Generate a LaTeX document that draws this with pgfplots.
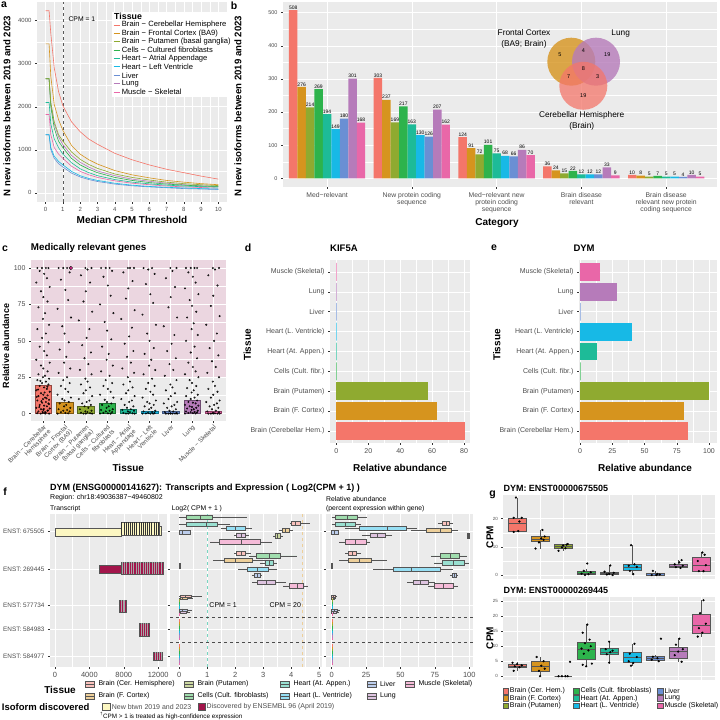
\documentclass[border=0pt]{standalone}
\usepackage{fontspec}
\setmainfont{Liberation Sans}
\usepackage{pgfplots}
\usepackage{pgfplotstable}
\pgfplotsset{compat=1.18}
\usepgfplotslibrary{statistics}

\definecolor{ggbg}{HTML}{EBEBEB}
\definecolor{ggtext}{HTML}{4D4D4D}
\definecolor{ggtick}{HTML}{333333}
\definecolor{ggbox}{HTML}{555555}
\definecolor{ggpink}{HTML}{EBD6E0}
\definecolor{cCer}{HTML}{F4766A}
\definecolor{cFC}{HTML}{D6941E}
\definecolor{cPut}{HTML}{8FAA30}
\definecolor{cCel}{HTML}{2DB34C}
\definecolor{cHA}{HTML}{1DBB98}
\definecolor{cHL}{HTML}{17B9E6}
\definecolor{cLiv}{HTML}{6A8FD4}
\definecolor{cLun}{HTML}{B67BBA}
\definecolor{cMus}{HTML}{E967A8}
\definecolor{cYel}{HTML}{FCF7C2}
\definecolor{cBur}{HTML}{A3154B}
\definecolor{cMag}{HTML}{F0339C}

\newcommand\fs[1]{\fontsize{#1}{#1}\selectfont}

\pgfplotsset{gg/.style={
  scale only axis,
  axis background/.style={fill=ggbg},
  axis line style={draw=none},
  grid=both,
  major grid style={white, line width=0.55pt},
  minor grid style={white, line width=0.25pt},
  tick align=outside,
  major tick length=2pt,
  minor tick length=0pt,
  every tick/.style={ggtick, line width=0.45pt},
  tick pos=left,
  ticklabel style={font=\fs{6}, text=ggtext},
  /pgf/number format/assume math mode=true,
  /pgf/number format/1000 sep={},
  scaled ticks=false,
}}

\newcommand\bp[8]{\addplot[boxplot prepared={lower whisker=#3, lower quartile=#4, median=#5, upper quartile=#6, upper whisker=#7, draw position=#2, box extend=#8, whisker extend=0}, draw=ggbox, fill=#1!45, line width=0.3pt] coordinates {};}
\newcommand\gbp[7]{\addplot[boxplot prepared={draw direction=y, lower whisker=#3, lower quartile=#4, median=#5, upper quartile=#6, upper whisker=#7, draw position=#2, box extend=0.75, whisker extend=0}, draw=ggbox, fill=#1, line width=0.35pt] coordinates {};}
\newcommand\blab[2]{\addplot[draw=none, nodes near coords, every node near coord/.append style={font=\fs{5}, inner sep=0.6pt, text=black, anchor=south}] table[x expr=\thisrow{c}+#2, y=#1]{\btab};}

\pgfplotstableread{
x Cer FC Put Cel HA HL Liv Lun Mus
0 4230 3460 2650 2650 2100 1350 1350 2650 1820
0.2 4230 3460 2650 2650 2100 1350 1350 2650 1820
0.3 3700 2700 2100 2000 1600 1050 1000 2050 1350
0.5 2900 2050 1650 1500 1250 850 800 1600 1050
0.75 2350 1700 1350 1200 1050 730 680 1300 900
1 2020 1450 1200 1050 900 650 600 1120 800
1.5 1650 1100 950 800 700 500 460 870 620
2 1420 900 780 650 560 400 370 710 500
2.5 1250 770 660 550 470 335 310 600 420
3 1130 670 570 470 400 290 265 510 360
4 920 520 440 360 310 225 205 400 280
5 770 420 360 290 250 180 165 320 225
6 650 350 300 240 210 150 140 270 190
7 550 290 250 205 180 130 120 225 160
8 470 250 215 180 160 115 100 190 140
9 390 215 190 160 145 100 90 165 125
10 320 190 170 150 135 90 80 150 110
}\atab

\pgfplotstableread{
c Cer FC Put Cel HA HL Liv Lun Mus
1 508 276 214 269 194 149 180 301 168
2 303 237 169 217 163 130 126 207 162
3 124 91 72 101 75 68 66 86 70
4 36 24 15 22 12 12 12 33 9
5 10 8 5 7 5 5 4 10 5
}\btab

\pgfplotstableread[row sep=\\]{t dx v\\
1 -0.28 100\\ 1 0.12 100\\ 1 -0.06 100\\ 1 0.24 100\\ 1 -0.17 98\\ 1 0.04 96\\ 1 0.17 93\\ 1 -0.33 90\\ 1 0.30 87\\ 1 -0.11 84\\ 1 0.00 80\\ 1 0.20 77\\ 1 -0.23 73\\ 1 0.08 69\\ 1 -0.02 65\\ 1 0.27 61\\
1 -0.28 58\\ 1 0.12 55\\ 1 -0.06 52\\ 1 0.24 49\\ 1 -0.17 46\\ 1 0.04 43\\ 1 0.17 40\\ 1 -0.33 37\\ 1 0.30 35\\ 1 -0.11 33\\ 1 0.00 31\\ 1 0.20 29\\ 1 -0.23 27\\ 1 0.08 26\\ 1 -0.02 25\\ 1 0.27 24\\
1 -0.28 23\\ 1 0.12 22\\ 1 -0.06 21\\ 1 0.24 20\\ 1 -0.17 19\\ 1 0.04 18\\ 1 0.17 17\\ 1 -0.33 16\\ 1 0.30 15\\ 1 -0.11 14\\ 1 0.00 13\\ 1 0.20 12.5\\ 1 -0.23 12\\ 1 0.08 11\\ 1 -0.02 10\\ 1 0.27 9.5\\
1 -0.28 9\\ 1 0.12 8\\ 1 -0.06 7.5\\ 1 0.24 7\\ 1 -0.17 6\\ 1 0.04 5.5\\ 1 0.17 5\\ 1 -0.33 4\\ 1 0.30 3.5\\ 1 -0.11 3\\ 1 0.00 2.5\\ 1 0.20 2\\ 1 -0.23 1.5\\ 1 0.08 1\\ 1 -0.02 0.5\\ 1 0.27 0\\
1 -0.14 22.5\\ 1 0.19 18.5\\ 1 -0.25 16.5\\ 1 0.06 14.5\\ 1 -0.31 11.5\\ 1 0.15 10.5\\ 1 -0.09 8.5\\ 1 0.26 6.5\\ 1 -0.19 4.5\\ 1 0.02 3.2\\ 1 0.22 2.2\\ 1 -0.04 1.2\\ 1 0.11 0.8\\ 1 -0.29 0.3\\ 1 0.09 0.1\\ 1 -0.12 0\\
2 -0.28 100\\ 2 0.12 100\\ 2 -0.06 100\\ 2 0.24 97\\ 2 -0.17 92\\ 2 0.04 85\\ 2 0.17 78\\ 2 -0.33 72\\ 2 0.30 66\\ 2 -0.11 60\\ 2 0.00 55\\ 2 0.20 49\\ 2 -0.23 44\\ 2 0.08 39\\ 2 -0.02 35\\ 2 0.27 31\\
2 -0.28 28\\ 2 0.12 25\\ 2 -0.06 23\\ 2 0.24 21\\ 2 -0.17 19\\ 2 0.04 17\\ 2 0.17 15\\ 2 -0.33 13\\ 2 0.30 11\\ 2 -0.11 10\\ 2 0.00 9\\ 2 0.20 8\\ 2 -0.23 7\\ 2 0.08 6\\ 2 -0.02 5\\ 2 0.27 4\\
2 -0.28 3\\ 2 0.12 2.5\\ 2 -0.06 2\\ 2 0.24 1.5\\ 2 -0.17 1\\ 2 0.04 0.5\\ 2 0.17 0.2\\ 2 -0.33 0\\
3 0.27 100\\ 3 -0.02 100\\ 3 0.08 99\\ 3 -0.23 95\\ 3 0.20 90\\ 3 0.00 84\\ 3 -0.11 77\\ 3 0.30 70\\ 3 -0.33 64\\ 3 0.17 58\\ 3 0.04 52\\ 3 -0.17 47\\ 3 0.24 42\\ 3 -0.06 38\\ 3 0.12 34\\ 3 -0.28 30\\
3 0.27 27\\ 3 -0.02 24\\ 3 0.08 22\\ 3 -0.23 20\\ 3 0.20 18\\ 3 0.00 16\\ 3 -0.11 14\\ 3 0.30 12\\ 3 -0.33 10\\ 3 0.17 9\\ 3 0.04 8\\ 3 -0.17 7\\ 3 0.24 6\\ 3 -0.06 5\\ 3 0.12 4\\ 3 -0.28 3\\
3 0.27 2\\ 3 -0.02 1.5\\ 3 0.08 1\\ 3 -0.23 0.6\\ 3 0.20 0.3\\ 3 0.00 0\\ 3 -0.11 0\\ 3 0.30 0\\
4 -0.28 100\\ 4 0.12 100\\ 4 -0.06 100\\ 4 0.24 98\\ 4 -0.17 94\\ 4 0.04 88\\ 4 0.17 81\\ 4 -0.33 75\\ 4 0.30 69\\ 4 -0.11 63\\ 4 0.00 57\\ 4 0.20 51\\ 4 -0.23 46\\ 4 0.08 41\\ 4 -0.02 37\\ 4 0.27 33\\
4 -0.28 29\\ 4 0.12 26\\ 4 -0.06 23\\ 4 0.24 21\\ 4 -0.17 19\\ 4 0.04 17\\ 4 0.17 15\\ 4 -0.33 13\\ 4 0.30 11\\ 4 -0.11 9.5\\ 4 0.00 8\\ 4 0.20 7\\ 4 -0.23 6\\ 4 0.08 5\\ 4 -0.02 4\\ 4 0.27 3\\
4 -0.28 2.5\\ 4 0.12 2\\ 4 -0.06 1.5\\ 4 0.24 1\\ 4 -0.17 0.5\\ 4 0.04 0.2\\ 4 0.17 0\\ 4 -0.33 0\\
5 0.27 100\\ 5 -0.02 100\\ 5 0.08 100\\ 5 -0.23 97\\ 5 0.20 91\\ 5 0.00 86\\ 5 -0.11 79\\ 5 0.30 71\\ 5 -0.33 65\\ 5 0.17 59\\ 5 0.04 53\\ 5 -0.17 48\\ 5 0.24 43\\ 5 -0.06 39\\ 5 0.12 35\\ 5 -0.28 31\\
5 0.27 28\\ 5 -0.02 25\\ 5 0.08 22\\ 5 -0.23 20\\ 5 0.20 18\\ 5 0.00 16\\ 5 -0.11 14\\ 5 0.30 12\\ 5 -0.33 10\\ 5 0.17 9\\ 5 0.04 8\\ 5 -0.17 6\\ 5 0.24 5\\ 5 -0.06 4\\ 5 0.12 3\\ 5 -0.28 2.5\\
5 0.27 2\\ 5 -0.02 1.5\\ 5 0.08 1\\ 5 -0.23 0.5\\ 5 0.20 0.2\\ 5 0.00 0\\ 5 -0.11 0\\ 5 0.30 0\\
6 -0.28 100\\ 6 0.12 100\\ 6 -0.06 99\\ 6 0.24 96\\ 6 -0.17 89\\ 6 0.04 82\\ 6 0.17 76\\ 6 -0.33 68\\ 6 0.30 61\\ 6 -0.11 55\\ 6 0.00 50\\ 6 0.20 45\\ 6 -0.23 41\\ 6 0.08 37\\ 6 -0.02 33\\ 6 0.27 30\\
6 -0.28 27\\ 6 0.12 24\\ 6 -0.06 21\\ 6 0.24 19\\ 6 -0.17 17\\ 6 0.04 15\\ 6 0.17 13\\ 6 -0.33 11\\ 6 0.30 9\\ 6 -0.11 8\\ 6 0.00 7\\ 6 0.20 6\\ 6 -0.23 5\\ 6 0.08 4\\ 6 -0.02 3\\ 6 0.27 2\\
6 -0.28 1.5\\ 6 0.12 1\\ 6 -0.06 0.6\\ 6 0.24 0.3\\ 6 -0.17 0.1\\ 6 0.04 0\\ 6 0.17 0\\ 6 -0.33 0\\
7 0.27 100\\ 7 -0.02 100\\ 7 0.08 98\\ 7 -0.23 93\\ 7 0.20 87\\ 7 0.00 80\\ 7 -0.11 73\\ 7 0.30 66\\ 7 -0.33 60\\ 7 0.17 54\\ 7 0.04 48\\ 7 -0.17 43\\ 7 0.24 38\\ 7 -0.06 34\\ 7 0.12 30\\ 7 -0.28 26\\
7 0.27 23\\ 7 -0.02 20\\ 7 0.08 18\\ 7 -0.23 16\\ 7 0.20 14\\ 7 0.00 12\\ 7 -0.11 10\\ 7 0.30 8\\ 7 -0.33 7\\ 7 0.17 6\\ 7 0.04 5\\ 7 -0.17 4\\ 7 0.24 3\\ 7 -0.06 2\\ 7 0.12 1.5\\ 7 -0.28 1\\
7 0.27 0.5\\ 7 -0.02 0.2\\ 7 0.08 0\\ 7 -0.23 0\\ 7 0.20 0\\ 7 0.00 0\\ 7 -0.11 0\\ 7 0.30 0\\
8 -0.28 100\\ 8 0.12 100\\ 8 -0.06 100\\ 8 0.24 100\\ 8 -0.17 97\\ 8 0.04 94\\ 8 0.17 90\\ 8 -0.33 86\\ 8 0.30 82\\ 8 -0.11 78\\ 8 0.00 74\\ 8 0.20 70\\ 8 -0.23 66\\ 8 0.08 62\\ 8 -0.02 58\\ 8 0.27 54\\
8 -0.28 50\\ 8 0.12 46\\ 8 -0.06 42\\ 8 0.24 38\\ 8 -0.17 35\\ 8 0.04 32\\ 8 0.17 29\\ 8 -0.33 27\\ 8 0.30 25\\ 8 -0.11 23\\ 8 0.00 21\\ 8 0.20 19\\ 8 -0.23 17.5\\ 8 0.08 16\\ 8 -0.02 14.5\\ 8 0.27 13\\
8 -0.28 12\\ 8 0.12 11\\ 8 -0.06 10\\ 8 0.24 9\\ 8 -0.17 8\\ 8 0.04 7.5\\ 8 0.17 7\\ 8 -0.33 6\\ 8 0.30 5.5\\ 8 -0.11 5\\ 8 0.00 4.5\\ 8 0.20 4\\ 8 -0.23 3.5\\ 8 0.08 3\\ 8 -0.02 2.5\\ 8 0.27 2\\
8 -0.28 1.5\\ 8 0.12 1.2\\ 8 -0.06 1\\ 8 0.24 0.8\\ 8 -0.17 0.5\\ 8 0.04 0.3\\ 8 0.17 0.1\\ 8 -0.33 0\\
9 0.27 100\\ 9 -0.02 100\\ 9 0.08 99\\ 9 -0.23 95\\ 9 0.20 88\\ 9 0.00 81\\ 9 -0.11 74\\ 9 0.30 67\\ 9 -0.33 61\\ 9 0.17 55\\ 9 0.04 50\\ 9 -0.17 45\\ 9 0.24 40\\ 9 -0.06 36\\ 9 0.12 32\\ 9 -0.28 28\\
9 0.27 25\\ 9 -0.02 22\\ 9 0.08 19\\ 9 -0.23 17\\ 9 0.20 15\\ 9 0.00 13\\ 9 -0.11 11\\ 9 0.30 9\\ 9 -0.33 8\\ 9 0.17 7\\ 9 0.04 6\\ 9 -0.17 5\\ 9 0.24 4\\ 9 -0.06 3\\ 9 0.12 2\\ 9 -0.28 1.5\\
9 0.27 1\\ 9 -0.02 0.5\\ 9 0.08 0.2\\ 9 -0.23 0\\ 9 0.20 0\\ 9 0.00 0\\ 9 -0.11 0\\ 9 0.30 0\\
}\ctab

\begin{document}
\begin{tikzpicture}
\path[use as bounding box] (0,0) rectangle (720pt,720pt);

%%%%%%%%%%%%%%%% Panel a
\begin{axis}[gg, at={(37pt,718.3pt)}, anchor=north west, width=190pt, height=200.3pt,
  xmin=-0.5, xmax=10.5, ymin=-211, ymax=4440,
  xtick={0,1,...,10}, ytick={0,1000,2000,3000,4000}, minor tick num=1]
\addplot[dashed, color=gray!70!black, line width=0.5pt] coordinates {(1,-211) (1,4440)};
\addplot[cMus, line width=0.6pt] table[x=x,y=Mus]{\atab};
\addplot[cLun, line width=0.6pt] table[x=x,y=Lun]{\atab};
\addplot[cLiv, line width=0.6pt] table[x=x,y=Liv]{\atab};
\addplot[cHL, line width=0.6pt] table[x=x,y=HL]{\atab};
\addplot[cHA, line width=0.6pt] table[x=x,y=HA]{\atab};
\addplot[cCel, line width=0.6pt] table[x=x,y=Cel]{\atab};
\addplot[cPut, line width=0.6pt] table[x=x,y=Put]{\atab};
\addplot[cFC, line width=0.6pt] table[x=x,y=FC]{\atab};
\addplot[cCer, line width=0.6pt] table[x=x,y=Cer]{\atab};
\node[font=\fs{6.8}, inner sep=0] at (axis cs:2.1,4040) {CPM = 1};
\end{axis}

%%%%%%%%%%%%%%%% Panel b
\begin{axis}[gg, at={(283pt,718.4pt)}, anchor=north west, width=434pt, height=185.1pt,
  xmin=0.48, xmax=5.6, ymin=-25.4, ymax=533.4, xtick={1,2,3,4,5},
  xticklabels={{Med−relevant},{New protein coding\\sequence},{Med−relevant new\\protein coding\\sequence},{Brain disease\\relevant},{Brain disease\\relevant new protein\\coding sequence}},
  xticklabel style={align=center, font=\fontsize{6.8}{7.4}\selectfont},
  ytick={0,100,200,300,400,500}, minor y tick num=1, yticklabel style={font=\fs{5.5}}]
\addplot[ybar, bar width=0.1, bar shift=-0.4, fill=cCer, draw=none] table[x=c,y=Cer]{\btab};
\addplot[ybar, bar width=0.1, bar shift=-0.3, fill=cFC, draw=none] table[x=c,y=FC]{\btab};
\addplot[ybar, bar width=0.1, bar shift=-0.2, fill=cPut, draw=none] table[x=c,y=Put]{\btab};
\addplot[ybar, bar width=0.1, bar shift=-0.1, fill=cCel, draw=none] table[x=c,y=Cel]{\btab};
\addplot[ybar, bar width=0.1, bar shift=0, fill=cHA, draw=none] table[x=c,y=HA]{\btab};
\addplot[ybar, bar width=0.1, bar shift=0.1, fill=cHL, draw=none] table[x=c,y=HL]{\btab};
\addplot[ybar, bar width=0.1, bar shift=0.2, fill=cLiv, draw=none] table[x=c,y=Liv]{\btab};
\addplot[ybar, bar width=0.1, bar shift=0.3, fill=cLun, draw=none] table[x=c,y=Lun]{\btab};
\addplot[ybar, bar width=0.1, bar shift=0.4, fill=cMus, draw=none] table[x=c,y=Mus]{\btab};
\blab{Cer}{-0.4}
\blab{FC}{-0.3}
\blab{Put}{-0.2}
\blab{Cel}{-0.1}
\blab{HA}{0}
\blab{HL}{0.1}
\blab{Liv}{0.2}
\blab{Lun}{0.3}
\blab{Mus}{0.4}
\end{axis}

%%%%%%%%%%%%%%%% Panel c
\begin{axis}[gg, at={(31pt,459.7pt)}, anchor=north west, width=195pt, height=160.6pt,
  xmin=0.42, xmax=9.6, ymin=-5, ymax=105.3,
  xtick={1,...,9}, ytick={0,25,50,75,100}, minor y tick num=1,
  xticklabels={{Brain − Cerebellar\\Hemisphere},{Brain − Frontal\\Cortex (BA9)},{Brain − Putamen\\(basal ganglia)},{Cells − Cultured\\fibroblasts},{Heart − Atrial\\Appendage},{Heart − Left\\Ventricle},{Liver},{Lung},{Muscle − Skeletal}},
  xticklabel style={rotate=45, anchor=north east, align=right, font=\fontsize{6.3}{6.6}\selectfont, inner sep=1pt},
  yticklabel style={font=\fs{7}}]
\fill[ggpink] (axis cs:0.42,25) rectangle (axis cs:9.6,105.3);
\draw[white, line width=0.25pt] (axis cs:0.42,37.5) -- (axis cs:9.6,37.5) (axis cs:0.42,62.5) -- (axis cs:9.6,62.5) (axis cs:0.42,87.5) -- (axis cs:9.6,87.5);
\draw[white, line width=0.55pt] (axis cs:0.42,25) -- (axis cs:9.6,25) (axis cs:0.42,50) -- (axis cs:9.6,50) (axis cs:0.42,75) -- (axis cs:9.6,75) (axis cs:0.42,100) -- (axis cs:9.6,100);
\draw[white, line width=0.55pt] (axis cs:1,25) -- (axis cs:1,105.3) (axis cs:2,25) -- (axis cs:2,105.3) (axis cs:3,25) -- (axis cs:3,105.3) (axis cs:4,25) -- (axis cs:4,105.3) (axis cs:5,25) -- (axis cs:5,105.3) (axis cs:6,25) -- (axis cs:6,105.3) (axis cs:7,25) -- (axis cs:7,105.3) (axis cs:8,25) -- (axis cs:8,105.3) (axis cs:9,25) -- (axis cs:9,105.3);
\addplot[ybar, bar width=0.78, bar shift=0, fill=cCer, draw=cCer!60!black, line width=0.4pt] coordinates {(1,19.4)};
\addplot[ybar, bar width=0.78, bar shift=0, fill=cFC, draw=cFC!60!black, line width=0.4pt] coordinates {(2,8)};
\addplot[ybar, bar width=0.78, bar shift=0, fill=cPut, draw=cPut!60!black, line width=0.4pt] coordinates {(3,5.4)};
\addplot[ybar, bar width=0.78, bar shift=0, fill=cCel, draw=cCel!60!black, line width=0.4pt] coordinates {(4,7)};
\addplot[ybar, bar width=0.78, bar shift=0, fill=cHA, draw=cHA!60!black, line width=0.4pt] coordinates {(5,3.2)};
\addplot[ybar, bar width=0.78, bar shift=0, fill=cHL, draw=cHL!60!black, line width=0.4pt] coordinates {(6,2)};
\addplot[ybar, bar width=0.78, bar shift=0, fill=cLiv, draw=cLiv!60!black, line width=0.4pt] coordinates {(7,2)};
\addplot[ybar, bar width=0.78, bar shift=0, fill=cLun, draw=cLun!60!black, line width=0.4pt] coordinates {(8,9.3)};
\addplot[ybar, bar width=0.78, bar shift=0, fill=cMus, draw=cMus!60!black, line width=0.4pt] coordinates {(9,1.5)};
\addplot[only marks, mark=*, mark size=0.8pt, mark options={fill=black, draw=none, fill opacity=0.33}] table[x expr=\thisrow{t}+\thisrow{dx}, y=v]{\ctab};
\addplot[only marks, mark=*, mark size=1.7pt, mark options={fill=cMag, draw=none}] coordinates {(2.3,100)};
\end{axis}

%%%%%%%%%%%%%%%% Panel d
\begin{axis}[gg, at={(330pt,460pt)}, anchor=north west, width=140.4pt, height=183pt,
  xmin=-4, xmax=84, ymin=0.4, ymax=9.6, xtick={0,20,40,60,80}, minor x tick num=1,
  ytick={1,...,9}, yticklabels={Brain (Cerebellar Hem.),Brain (F. Cortex),Brain (Putamen),Cells (Cult. fibr.),Heart (At. Appen.),Heart (L. Ventricle),Liver,Lung,Muscle (Skeletal)},
  ticklabel style={font=\fs{7}}]
\addplot[xbar, bar width=0.9, bar shift=0, fill=cCer, draw=none] coordinates {(80.5,1)};
\addplot[xbar, bar width=0.9, bar shift=0, fill=cFC, draw=none] coordinates {(63,2)};
\addplot[xbar, bar width=0.9, bar shift=0, fill=cPut, draw=none] coordinates {(57.7,3)};
\addplot[xbar, bar width=0.9, bar shift=0, draw=cCel!60, line width=0.2pt] coordinates {(0,4)};
\addplot[xbar, bar width=0.9, bar shift=0, draw=cHA!60, line width=0.2pt] coordinates {(0,5)};
\addplot[xbar, bar width=0.9, bar shift=0, draw=cHL!60, line width=0.2pt] coordinates {(0,6)};
\addplot[xbar, bar width=0.9, bar shift=0, draw=cLiv!60, line width=0.2pt] coordinates {(0,7)};
\addplot[xbar, bar width=0.9, bar shift=0, draw=cLun!60, line width=0.2pt] coordinates {(0,8)};
\addplot[xbar, bar width=0.9, bar shift=0, draw=cMus!60, line width=0.2pt] coordinates {(0,9)};
\end{axis}

%%%%%%%%%%%%%%%% Panel e
\begin{axis}[gg, at={(579pt,460pt)}, anchor=north west, width=138pt, height=183pt,
  xmin=-0.8, xmax=106.2, ymin=0.4, ymax=9.6, xtick={0,25,50,75,100}, minor x tick num=1,
  ytick={1,...,9}, yticklabels={Brain (Cerebellar Hem.),Brain (F. Cortex),Brain (Putamen),Cells (Cult. fibr.),Heart (At. Appen.),Heart (L. Ventricle),Liver,Lung,Muscle (Skeletal)},
  ticklabel style={font=\fs{7}}]
\addplot[xbar, bar width=0.9, bar shift=0, fill=cCer, draw=none] coordinates {(84,1)};
\addplot[xbar, bar width=0.9, bar shift=0, fill=cFC, draw=none] coordinates {(80.4,2)};
\addplot[xbar, bar width=0.9, bar shift=0, fill=cPut, draw=none] coordinates {(100,3)};
\addplot[xbar, bar width=0.9, bar shift=0, draw=cCel!60, line width=0.2pt] coordinates {(0,4)};
\addplot[xbar, bar width=0.9, bar shift=0, fill=cHA, draw=none] coordinates {(13,5)};
\addplot[xbar, bar width=0.9, bar shift=0, fill=cHL, draw=none] coordinates {(40,6)};
\addplot[xbar, bar width=0.9, bar shift=0, draw=cLiv!60, line width=0.2pt] coordinates {(0,7)};
\addplot[xbar, bar width=0.9, bar shift=0, fill=cLun, draw=none] coordinates {(29,8)};
\addplot[xbar, bar width=0.9, bar shift=0, fill=cMus, draw=none] coordinates {(15.5,9)};
\end{axis}

%%%%%%%%%%%%%%%% Panel f: transcripts
\begin{axis}[gg, at={(50pt,206pt)}, anchor=north west, width=116.7pt, height=153pt,
  xmin=-580, xmax=12990, ymin=514, ymax=667, y dir=reverse,
  xtick={0,4000,8000,12000}, minor x tick num=1,
  ytick={531.7,569,605,629,656}, yticklabels={ENST: 675505,ENST: 269445,ENST: 577734,ENST: 584983,ENST: 584977},
  yticklabel style={font=\fs{6.4}}, xticklabel style={font=\fs{7.5}}]
\addplot[fill=cYel, draw=ggbox, line width=0.35pt] coordinates {(0,528.3) (7640,528.3) (7640,535.7) (0,535.7)} -- cycle;
\addplot[fill=cYel, draw=ggbox, line width=0.35pt] coordinates {(7640,522.4) (12130,522.4) (12130,535.5) (7640,535.5)} -- cycle;
\addplot[fill=cYel, draw=ggbox, line width=0.35pt] coordinates {(12130,526) (12400,526) (12400,535.5) (12130,535.5)} -- cycle;
\addplot[only marks, mark=|, mark size=6.5pt, mark options={draw=ggtick, line width=0.55pt}] coordinates {(7750,528.95) (8000,528.95) (8250,528.95) (8500,528.95) (8750,528.95) (9000,528.95) (9250,528.95) (9500,528.95) (9750,528.95) (10000,528.95) (10250,528.95) (10500,528.95) (10750,528.95) (11000,528.95) (11250,528.95) (11500,528.95) (11750,528.95) (12000,528.95)};
\addplot[fill=cBur, draw=ggbox, line width=0.35pt] coordinates {(5100,565) (7640,565) (7640,573.3) (5100,573.3)} -- cycle;
\addplot[fill=cBur, draw=ggbox, line width=0.35pt] coordinates {(7640,561.7) (12550,561.7) (12550,574) (7640,574)} -- cycle;
\addplot[only marks, mark=|, mark size=6.1pt, mark options={draw=gray!70, line width=0.4pt}] coordinates {(7800,567.85) (8050,567.85) (8300,567.85) (8600,567.85) (8850,567.85) (9100,567.85) (9400,567.85) (9650,567.85) (9900,567.85) (10200,567.85) (10450,567.85) (10700,567.85) (11000,567.85) (11250,567.85) (11500,567.85) (11800,567.85) (12050,567.85) (12300,567.85)};
\addplot[fill=cBur, draw=ggbox, line width=0.35pt] coordinates {(7440,600) (8260,600) (8260,611.7) (7440,611.7)} -- cycle;
\addplot[only marks, mark=|, mark size=5.8pt, mark options={draw=gray!70, line width=0.4pt}] coordinates {(7650,605.85) (7900,605.85) (8100,605.85)};
\addplot[fill=cBur, draw=ggbox, line width=0.35pt] coordinates {(9800,623) (10930,623) (10930,635.7) (9800,635.7)} -- cycle;
\addplot[only marks, mark=|, mark size=6.3pt, mark options={draw=gray!70, line width=0.4pt}] coordinates {(10000,629.35) (10250,629.35) (10500,629.35) (10750,629.35)};
\addplot[fill=cBur, draw=ggbox, line width=0.35pt] coordinates {(11430,651.7) (12480,651.7) (12480,660) (11430,660)} -- cycle;
\addplot[only marks, mark=|, mark size=4.1pt, mark options={draw=gray!70, line width=0.4pt}] coordinates {(11650,655.85) (11900,655.85) (12150,655.85) (12350,655.85)};
\end{axis}

%%%%%%%%%%%%%%%% Panel f: log2 CPM
\begin{axis}[gg, at={(170pt,206pt)}, anchor=north west, width=151.7pt, height=153pt,
  xmin=-0.33, xmax=5.09, ymin=514, ymax=667, y dir=reverse,
  xtick={0,1,2,3,4,5}, minor x tick num=1,
  ytick={531.7,569,605,629,656}, yticklabels={}, xticklabel style={font=\fs{7.5}}]
\addplot[dashed, color=cHA!60!white, line width=0.55pt] coordinates {(1,514) (1,667)};
\addplot[dashed, color=cFC!45!white, line width=0.55pt] coordinates {(4.39,514) (4.39,667)};
\addplot[dashed, color=gray!60!black, line width=0.45pt] coordinates {(-0.33,617.3) (5.09,617.3)};
\addplot[dashed, color=gray!60!black, line width=0.45pt] coordinates {(-0.33,642.3) (5.09,642.3)};
\bp{cCel}{517.3}{0}{0.26}{0.75}{1.18}{2.41}{4.5}
\bp{cCer}{523.3}{3.95}{4.01}{4.15}{4.31}{4.67}{4.5}
\bp{cHA}{524}{0}{0.23}{0.95}{1.34}{1.8}{4.5}
\bp{cHL}{528}{1.5}{1.66}{2.0}{2.35}{2.6}{4.5}
\bp{cFC}{530}{3.55}{3.68}{3.8}{3.93}{4.05}{4.5}
\bp{cLiv}{532.3}{0}{0}{0.1}{0.38}{0.4}{4.5}
\bp{cLun}{535}{1.95}{2.03}{2.2}{2.37}{2.5}{4.5}
\bp{cPut}{535.7}{3.35}{3.42}{3.5}{3.6}{3.7}{4.5}
\bp{cMus}{541.7}{1.1}{1.42}{2.2}{2.88}{3.3}{4.5}
\bp{cCer}{553.3}{1.95}{2.05}{2.2}{2.35}{2.55}{4.5}
\bp{cCel}{555.7}{2.5}{2.76}{3.2}{3.6}{4.2}{4.5}
\bp{cFC}{560}{1.2}{1.6}{2.0}{2.59}{3.2}{4.5}
\bp{cHA}{562.7}{2.9}{3.06}{3.2}{3.34}{3.5}{4.5}
\bp{cPut}{565.7}{0}{0}{0}{0.05}{0.05}{4.5}
\bp{cHL}{569}{2.1}{2.43}{2.8}{3.18}{3.5}{4.5}
\bp{cLiv}{575}{2.6}{2.67}{2.8}{2.88}{2.95}{4.5}
\bp{cLun}{582.3}{2.6}{2.8}{3.1}{3.42}{3.8}{4.5}
\bp{cMus}{585.7}{3.7}{3.93}{4.2}{4.42}{4.6}{4.5}
\bp{cCer}{596}{0}{0.03}{0.2}{0.44}{0.8}{2.2}
\bp{cFC}{598.3}{0}{0.02}{0.1}{0.3}{0.5}{2.2}
\bp{cLiv}{609.8}{0}{0}{0.1}{0.3}{0.45}{2.2}
\bp{cLun}{612.1}{0}{0}{0.05}{0.25}{0.4}{2.2}
\addplot[only marks, mark=|, mark size=1.15pt, mark options={draw=cCer, line width=1.3pt}] coordinates {(0.02,620.5) (0.02,645.5)};
\addplot[only marks, mark=|, mark size=1.15pt, mark options={draw=cFC, line width=1.3pt}] coordinates {(0.02,622.8) (0.02,647.8)};
\addplot[only marks, mark=|, mark size=1.15pt, mark options={draw=cPut, line width=1.3pt}] coordinates {(0.02,600.6) (0.02,625.1) (0.02,650.1)};
\addplot[only marks, mark=|, mark size=1.15pt, mark options={draw=cCel, line width=1.3pt}] coordinates {(0.02,602.9) (0.02,627.4) (0.02,652.4)};
\addplot[only marks, mark=|, mark size=1.15pt, mark options={draw=cHA, line width=1.3pt}] coordinates {(0.02,605.2) (0.02,629.7) (0.02,654.7)};
\addplot[only marks, mark=|, mark size=1.15pt, mark options={draw=cHL, line width=1.3pt}] coordinates {(0.02,607.5) (0.02,632.0) (0.02,657.0)};
\addplot[only marks, mark=|, mark size=1.15pt, mark options={draw=cLiv, line width=1.3pt}] coordinates {(0.02,634.3) (0.02,659.3)};
\addplot[only marks, mark=|, mark size=1.15pt, mark options={draw=cLun, line width=1.3pt}] coordinates {(0.02,636.6) (0.02,661.6)};
\addplot[only marks, mark=|, mark size=1.15pt, mark options={draw=cMus, line width=1.3pt}] coordinates {(0.02,614.4) (0.02,638.9) (0.02,663.9)};
\node[font=\fs{7}, inner sep=0] at (axis cs:1.57,605) {CPM = 1};
\node[font=\fs{7}, inner sep=0] at (axis cs:3.79,605) {CPM = 20};
\end{axis}

%%%%%%%%%%%%%%%% Panel f: relative abundance
\begin{axis}[gg, at={(326pt,206pt)}, anchor=north west, width=147.3pt, height=153pt,
  xmin=-4.1, xmax=102.9, ymin=514, ymax=667, y dir=reverse,
  xtick={0,25,50,75,100}, minor x tick num=1,
  ytick={531.7,569,605,629,656}, yticklabels={}, xticklabel style={font=\fs{7.5}}]
\addplot[dashed, color=gray!60!black, line width=0.45pt] coordinates {(-4.1,617.3) (102.9,617.3)};
\addplot[dashed, color=gray!60!black, line width=0.45pt] coordinates {(-4.1,642.3) (102.9,642.3)};
\bp{cCel}{517.3}{0}{2.9}{10.9}{18.2}{25.4}{4.5}
\bp{cCer}{523.3}{77}{80}{83}{85.5}{88}{4.5}
\bp{cHA}{524}{0}{2.9}{10}{16.9}{21}{4.5}
\bp{cHL}{528}{10}{20}{40}{54}{62}{4.5}
\bp{cFC}{530}{58}{69}{78.7}{86.7}{92}{4.5}
\bp{cLiv}{532.3}{0}{0}{2}{4.8}{5}{4.5}
\bp{cLun}{535}{22}{27.8}{33}{39.2}{44}{4.5}
\bp{cPut}{535.7}{98}{98.5}{99.5}{100}{100}{4.5}
\bp{cMus}{541.7}{5}{9.7}{17}{25}{28}{4.5}
\bp{cCer}{553.3}{10}{12}{15}{18}{21}{4.5}
\bp{cCel}{555.7}{72}{78.7}{86}{92.7}{98}{4.5}
\bp{cFC}{560}{5}{12}{20}{28.5}{40}{4.5}
\bp{cHA}{562.7}{74}{80}{88}{96.4}{100}{4.5}
\bp{cPut}{565.7}{0}{0}{0}{0.5}{0.5}{4.5}
\bp{cHL}{569}{30}{44.8}{58}{78.7}{88}{4.5}
\bp{cLiv}{575}{86}{87.2}{89}{90.8}{92}{4.5}
\bp{cLun}{582.3}{55}{59.3}{64}{70.2}{75}{4.5}
\bp{cMus}{585.7}{70}{74.3}{81}{88.4}{92}{4.5}
\bp{cCer}{596}{0}{0}{1}{2.5}{4}{2.2}
\bp{cFC}{598.3}{0}{0}{1}{2}{3}{2.2}
\bp{cLiv}{609.8}{0}{0}{1.5}{4}{6}{2.2}
\bp{cLun}{612.1}{0}{0}{1}{3}{5}{2.2}
\addplot[only marks, mark=|, mark size=1.15pt, mark options={draw=cCer, line width=1.3pt}] coordinates {(0.4,620.5) (0.4,645.5)};
\addplot[only marks, mark=|, mark size=1.15pt, mark options={draw=cFC, line width=1.3pt}] coordinates {(0.4,622.8) (0.4,647.8)};
\addplot[only marks, mark=|, mark size=1.15pt, mark options={draw=cPut, line width=1.3pt}] coordinates {(0.4,600.6) (0.4,625.1) (0.4,650.1)};
\addplot[only marks, mark=|, mark size=1.15pt, mark options={draw=cCel, line width=1.3pt}] coordinates {(0.4,602.9) (0.4,627.4) (0.4,652.4)};
\addplot[only marks, mark=|, mark size=1.15pt, mark options={draw=cHA, line width=1.3pt}] coordinates {(0.4,605.2) (0.4,629.7) (0.4,654.7)};
\addplot[only marks, mark=|, mark size=1.15pt, mark options={draw=cHL, line width=1.3pt}] coordinates {(0.4,607.5) (0.4,632.0) (0.4,657.0)};
\addplot[only marks, mark=|, mark size=1.15pt, mark options={draw=cLiv, line width=1.3pt}] coordinates {(0.4,634.3) (0.4,659.3)};
\addplot[only marks, mark=|, mark size=1.15pt, mark options={draw=cLun, line width=1.3pt}] coordinates {(0.4,636.6) (0.4,661.6)};
\addplot[only marks, mark=|, mark size=1.15pt, mark options={draw=cMus, line width=1.3pt}] coordinates {(0.4,614.4) (0.4,638.9) (0.4,663.9)};
\end{axis}

%%%%%%%%%%%%%%%% Panel g top
\begin{axis}[gg, at={(503.3pt,225pt)}, anchor=north west, width=211.7pt, height=84pt,
  xmin=0.4, xmax=9.6, ymin=-1.4, ymax=28.4, xtick={1,...,9}, xticklabels={}, xtick style={draw=none},
  ytick={0,10,20}, minor y tick num=1, yticklabel style={font=\fs{4.5}}]
\gbp{cCer}{1}{15.3}{15.5}{18.4}{20.3}{27.5}
\gbp{cFC}{2}{9.4}{11.9}{12.8}{13.7}{16}
\gbp{cPut}{3}{8.6}{9.5}{10.4}{10.8}{11}
\gbp{cCel}{4}{0}{0.2}{0.8}{1.3}{2.2}
\gbp{cHA}{5}{0}{0.2}{0.5}{1.1}{3.4}
\gbp{cHL}{6}{0.3}{1.8}{2.9}{3.7}{10.6}
\gbp{cLiv}{7}{0}{0}{0.1}{0.5}{1.5}
\gbp{cLun}{8}{2.5}{2.7}{3.3}{3.8}{5.3}
\gbp{cMus}{9}{1.4}{1.4}{3.6}{6.5}{8}
\addplot[only marks, mark=*, mark size=0.9pt, black] coordinates {
(0.95,27.5) (0.85,20.3) (1.2,20.3) (1.1,19.0) (0.85,15.3) (1.05,15.6)
(2.1,16.0) (2.2,13.7) (2.05,13.0) (2.15,12.5) (1.95,11.6) (1.8,9.4)
(3.2,11.0) (3.15,10.8) (3.0,10.5) (2.95,9.8) (3.1,9.5) (2.8,8.6)
(4.05,4.1) (3.9,1.5) (4.2,1.0) (3.8,0.5) (4.1,0.3) (3.95,0.0)
(5.05,3.4) (4.8,1.2) (5.2,0.8) (5.0,0.4) (4.9,0.2) (5.15,0.0)
(5.95,10.6) (6.1,3.8) (5.85,3.3) (6.2,2.9) (5.9,1.5) (6.05,0.3)
(6.9,1.5) (7.1,0.4) (7.2,0.2) (6.85,0.0) (7.05,0.0)
(8.15,5.3) (8.05,4.5) (7.85,3.8) (8.2,3.3) (7.9,2.8) (8.1,2.5)
(9.05,8.0) (9.15,7.2) (8.85,5.0) (9.2,3.5) (8.9,1.4) (9.1,1.4)};
\end{axis}

%%%%%%%%%%%%%%%% Panel g bottom
\begin{axis}[gg, at={(503.3pt,123.3pt)}, anchor=north west, width=211.7pt, height=83.3pt,
  xmin=0.4, xmax=9.6, ymin=-1.27, ymax=26.5, xtick={1,...,9}, xticklabels={}, xtick style={draw=none},
  ytick={0,5,10,15,20,25}, yticklabel style={font=\fs{4.5}}]
\gbp{cCer}{1}{1.8}{3.0}{3.5}{4.0}{4.6}
\gbp{cFC}{2}{0}{1.8}{3.3}{5.0}{6.4}
\gbp{cPut}{3}{0}{0}{0}{0}{0}
\gbp{cCel}{4}{3.1}{5.8}{9.0}{11.5}{17.2}
\gbp{cHA}{5}{4.5}{7.3}{8.0}{9.2}{11.5}
\gbp{cHL}{6}{3.5}{4.6}{6.4}{7.9}{10.8}
\gbp{cLiv}{7}{5.0}{5.4}{6.0}{6.8}{6.9}
\gbp{cLun}{8}{4.8}{6.0}{8.2}{9.8}{12.5}
\gbp{cMus}{9}{13.1}{14.4}{16.9}{20.7}{25.3}
\addplot[only marks, mark=*, mark size=0.9pt, black] coordinates {
(0.8,4.5) (1.0,4.0) (1.2,3.6) (0.9,3.3) (1.1,3.0) (0.85,1.8)
(1.85,6.4) (2.15,5.0) (2.05,3.5) (2.2,2.5) (1.95,1.8) (2.0,0.0)
(2.8,0) (2.95,0) (3.1,0) (3.2,0) (3.3,4.8)
(4.05,17.2) (3.85,14.5) (4.15,12.2) (3.95,11.0) (4.2,10.0) (3.8,9.2) (4.1,8.6) (3.9,7.5) (4.25,4.2) (3.85,3.8) (4.0,3.3)
(5.0,11.5) (4.85,9.0) (5.15,8.5) (5.05,8.0) (4.9,7.3) (5.0,4.5)
(6.1,10.8) (5.9,7.5) (6.2,6.4) (5.85,5.0) (6.05,4.4) (5.95,3.5)
(7.25,12.5) (6.9,6.5) (7.1,6.0) (6.85,5.5) (7.15,5.0)
(8.05,12.5) (7.9,10.5) (8.2,9.0) (8.0,8.2) (7.85,7.0) (8.15,4.8)
(9.1,25.3) (8.95,21.0) (9.2,17.5) (8.9,16.0) (9.05,14.5) (8.85,13.2)};
\end{axis}

%%%%%%%%%%%%%%%% Texts, legends, Venn
\begin{scope}[x=1pt, y=-1pt, shift={(0pt,720pt)}]
% panel letters
\node[font=\bfseries\fs{10.5}, inner sep=0] at (4,5) {a};
\node[font=\bfseries\fs{10.5}, inner sep=0] at (234,6) {b};
\node[font=\bfseries\fs{10.5}, inner sep=0] at (5,249) {c};
\node[font=\bfseries\fs{10.5}, inner sep=0] at (248,248) {d};
\node[font=\bfseries\fs{10.5}, inner sep=0] at (494,248) {e};
\node[font=\bfseries\fs{10.5}, inner sep=0] at (5,491.7) {f};
\node[font=\bfseries\fs{10.5}, inner sep=0] at (492.7,494.3) {g};
% axis titles a,b
\node[font=\bfseries\fs{9.6}, rotate=90, inner sep=0] at (7,106) {N new isoforms between 2019 and 2023};
\node[font=\bfseries\fs{10}, inner sep=0] at (132,220) {Median CPM Threshold};
\node[font=\bfseries\fs{9.6}, rotate=90, inner sep=0] at (238,106) {N new isoforms between 2019 and 2023};
\node[font=\bfseries\fs{10}, inner sep=0] at (497,223.3) {Category};
% legend a
\fill[white] (111.5,12) rectangle (230,97);
\node[anchor=west, font=\bfseries\fs{8.8}, inner sep=0] at (114,16.7) {Tissue};
\draw[cCer, line width=0.8pt] (113.5,25) -- (119.8,25);
\node[anchor=west, font=\fs{7.6}, inner sep=0] at (121.7,25) {Brain − Cerebellar Hemisphere};
\draw[cFC, line width=0.8pt] (113.5,33.4) -- (119.8,33.4);
\node[anchor=west, font=\fs{7.6}, inner sep=0] at (121.7,33.4) {Brain − Frontal Cortex (BA9)};
\draw[cPut, line width=0.8pt] (113.5,41.8) -- (119.8,41.8);
\node[anchor=west, font=\fs{7.6}, inner sep=0] at (121.7,41.8) {Brain − Putamen (basal ganglia)};
\draw[cCel, line width=0.8pt] (113.5,50.1) -- (119.8,50.1);
\node[anchor=west, font=\fs{7.6}, inner sep=0] at (121.7,50.1) {Cells − Cultured fibroblasts};
\draw[cHA, line width=0.8pt] (113.5,58.5) -- (119.8,58.5);
\node[anchor=west, font=\fs{7.6}, inner sep=0] at (121.7,58.5) {Heart − Atrial Appendage};
\draw[cHL, line width=0.8pt] (113.5,66.9) -- (119.8,66.9);
\node[anchor=west, font=\fs{7.6}, inner sep=0] at (121.7,66.9) {Heart − Left Ventricle};
\draw[cLiv, line width=0.8pt] (113.5,75.3) -- (119.8,75.3);
\node[anchor=west, font=\fs{7.6}, inner sep=0] at (121.7,75.3) {Liver};
\draw[cLun, line width=0.8pt] (113.5,83.6) -- (119.8,83.6);
\node[anchor=west, font=\fs{7.6}, inner sep=0] at (121.7,83.6) {Lung};
\draw[cMus, line width=0.8pt] (113.5,92) -- (119.8,92);
\node[anchor=west, font=\fs{7.6}, inner sep=0] at (121.7,92) {Muscle − Skeletal};
% Venn
\fill[cFC, opacity=0.8] (571.3,61.7) circle[radius=24pt];
\fill[cLun, opacity=0.8] (596,61.7) circle[radius=24pt];
\fill[cCer, opacity=0.75] (583.3,85.8) circle[radius=24pt];
\node[font=\fs{5.5}, inner sep=0] at (560,55) {5};
\node[font=\fs{5.5}, inner sep=0] at (583.3,50.7) {4};
\node[font=\fs{5.5}, inner sep=0] at (607.3,55) {19};
\node[font=\fs{5.5}, inner sep=0] at (583.3,68.3) {8};
\node[font=\fs{5.5}, inner sep=0] at (568.7,76.7) {7};
\node[font=\fs{5.5}, inner sep=0] at (597.7,76.7) {3};
\node[font=\fs{5.5}, inner sep=0] at (583.3,95.7) {19};
\node[font=\fontsize{8.3}{11}\selectfont, align=center, inner sep=0] at (524,39) {Frontal Cortex\\(BA9; Brain)};
\node[font=\fs{8.3}, inner sep=0] at (620.7,33.3) {Lung};
\node[font=\fontsize{8.3}{11}\selectfont, align=center, inner sep=0] at (581.7,120.5) {Cerebellar Hemisphere\\(Brain)};
% c
\node[anchor=west, font=\bfseries\fs{9.8}, inner sep=0] at (30.7,248) {Medically relevant genes};
\node[font=\bfseries\fs{9}, rotate=90, inner sep=0] at (6,346) {Relative abundance};
\node[font=\bfseries\fs{10}, inner sep=0] at (128.3,467.7) {Tissue};
% d,e
\node[anchor=west, font=\bfseries\fs{9.5}, inner sep=0] at (330,248) {KIF5A};
\node[font=\bfseries\fs{10}, rotate=90, inner sep=0] at (247.3,345) {Tissue};
\node[font=\bfseries\fs{10}, inner sep=0] at (400,467.7) {Relative abundance};
\node[anchor=west, font=\bfseries\fs{9.5}, inner sep=0] at (573.3,248) {DYM};
\node[font=\bfseries\fs{10}, rotate=90, inner sep=0] at (496.7,345) {Tissue};
\node[font=\bfseries\fs{10}, inner sep=0] at (645,467.7) {Relative abundance};
% f
\node[anchor=west, font=\bfseries\fs{9}, inner sep=0] at (50,488.3) {DYM (ENSG00000141627): Transcripts and Expression ( Log2(CPM + 1) )};
\node[anchor=west, font=\fs{7}, inner sep=0] at (50,497.7) {Region: chr18:49036387−49460802};
\node[anchor=west, font=\fs{6.8}, inner sep=0] at (50,508.3) {Transcript};
\node[anchor=west, font=\fs{6.8}, inner sep=0] at (171.7,508.3) {Log2( CPM + 1 )};
\node[anchor=west, font=\fs{6.8}, inner sep=0] at (326,499.3) {Relative abundance};
\node[anchor=west, font=\fs{6.8}, inner sep=0] at (326,508.3) {(percent expression within gene)};
% f legend
\node[font=\bfseries\fs{10}, inner sep=0] at (60,690) {Tissue};
\filldraw[fill=cCer!45, draw=ggbox, line width=0.35pt] (85,680.8) rectangle ++(9,6.4); \draw[ggbox, line width=0.35pt] (85,684) -- ++(9,0);
\node[anchor=west, font=\fs{7}, inner sep=0] at (98.3,684) {Brain (Cer. Hemisphere)};
\filldraw[fill=cPut!45, draw=ggbox, line width=0.35pt] (184,680.8) rectangle ++(9,6.4); \draw[ggbox, line width=0.35pt] (184,684) -- ++(9,0);
\node[anchor=west, font=\fs{7}, inner sep=0] at (197.3,684) {Brain (Putamen)};
\filldraw[fill=cHA!45, draw=ggbox, line width=0.35pt] (280,680.8) rectangle ++(9,6.4); \draw[ggbox, line width=0.35pt] (280,684) -- ++(9,0);
\node[anchor=west, font=\fs{7}, inner sep=0] at (293.3,684) {Heart (At. Appen.)};
\filldraw[fill=cLiv!45, draw=ggbox, line width=0.35pt] (366.7,680.8) rectangle ++(9,6.4); \draw[ggbox, line width=0.35pt] (366.7,684) -- ++(9,0);
\node[anchor=west, font=\fs{7}, inner sep=0] at (380,684) {Liver};
\filldraw[fill=cMus!45, draw=ggbox, line width=0.35pt] (405,680.8) rectangle ++(9,6.4); \draw[ggbox, line width=0.35pt] (405,684) -- ++(9,0);
\node[anchor=west, font=\fs{7}, inner sep=0] at (418.3,684) {Muscle (Skeletal)};
\filldraw[fill=cFC!45, draw=ggbox, line width=0.35pt] (85,692.8) rectangle ++(9,6.4); \draw[ggbox, line width=0.35pt] (85,696) -- ++(9,0);
\node[anchor=west, font=\fs{7}, inner sep=0] at (98.3,696) {Brain (F. Cortex)};
\filldraw[fill=cCel!45, draw=ggbox, line width=0.35pt] (184,692.8) rectangle ++(9,6.4); \draw[ggbox, line width=0.35pt] (184,696) -- ++(9,0);
\node[anchor=west, font=\fs{7}, inner sep=0] at (197.3,696) {Cells (Cult. fibroblasts)};
\filldraw[fill=cHL!45, draw=ggbox, line width=0.35pt] (280,692.8) rectangle ++(9,6.4); \draw[ggbox, line width=0.35pt] (280,696) -- ++(9,0);
\node[anchor=west, font=\fs{7}, inner sep=0] at (293.3,696) {Heart (L. Ventricle)};
\filldraw[fill=cLun!45, draw=ggbox, line width=0.35pt] (366.7,692.8) rectangle ++(9,6.4); \draw[ggbox, line width=0.35pt] (366.7,696) -- ++(9,0);
\node[anchor=west, font=\fs{7}, inner sep=0] at (380,696) {Lung};
\node[anchor=west, font=\bfseries\fs{9.5}, inner sep=0] at (1.7,706.7) {Isoform discovered};
\filldraw[fill=cYel, draw=ggbox, line width=0.3pt] (101.7,703) rectangle (110,710.5);
\node[anchor=west, font=\fs{7}, text=ggtext, inner sep=0] at (111.7,706.7) {New btwn 2019 and 2023};
\filldraw[fill=cBur, draw=ggbox, line width=0.3pt] (197.7,703) rectangle (205,710.5);
\node[anchor=west, font=\fs{7}, text=ggtext, inner sep=0] at (206.5,706.7) {Discovered by ENSEMBL 96 (April 2019)};
\node[anchor=west, font=\fs{6.3}, inner sep=0] at (100,716) {\textsuperscript{†}CPM > 1 is treated as high-confidence expression};
% g
\node[anchor=west, font=\bfseries\fs{9}, inner sep=0] at (503.3,488.3) {DYM: ENST00000675505};
\node[anchor=west, font=\bfseries\fs{9}, inner sep=0] at (503.3,590) {DYM: ENST00000269445};
\node[font=\bfseries\fs{10}, rotate=90, inner sep=0] at (490,537) {CPM};
\node[font=\bfseries\fs{10}, rotate=90, inner sep=0] at (490,638) {CPM};
% g legend
\filldraw[fill=cCer, draw=ggbox, line width=0.3pt] (502.7,688.1) rectangle ++(5.8,5.8);
\node[anchor=west, font=\fs{7}, inner sep=0] at (509.7,691) {Brain (Cer. Hem.)};
\filldraw[fill=cFC, draw=ggbox, line width=0.3pt] (502.7,695.4) rectangle ++(5.8,5.8);
\node[anchor=west, font=\fs{7}, inner sep=0] at (509.7,698.3) {Brain (F. Cortex)};
\filldraw[fill=cPut, draw=ggbox, line width=0.3pt] (502.7,702.8) rectangle ++(5.8,5.8);
\node[anchor=west, font=\fs{7}, inner sep=0] at (509.7,705.7) {Brain (Putamen)};
\filldraw[fill=cCel, draw=ggbox, line width=0.3pt] (573.3,688.1) rectangle ++(5.8,5.8);
\node[anchor=west, font=\fs{7}, inner sep=0] at (580.3,691) {Cells (Cult. fibroblasts)};
\filldraw[fill=cHA, draw=ggbox, line width=0.3pt] (573.3,695.4) rectangle ++(5.8,5.8);
\node[anchor=west, font=\fs{7}, inner sep=0] at (580.3,698.3) {Heart (At. Appen.)};
\filldraw[fill=cHL, draw=ggbox, line width=0.3pt] (573.3,702.8) rectangle ++(5.8,5.8);
\node[anchor=west, font=\fs{7}, inner sep=0] at (580.3,705.7) {Heart (L. Ventricle)};
\filldraw[fill=cLiv, draw=ggbox, line width=0.3pt] (657.3,688.1) rectangle ++(5.8,5.8);
\node[anchor=west, font=\fs{7}, inner sep=0] at (664.3,691) {Liver};
\filldraw[fill=cLun, draw=ggbox, line width=0.3pt] (657.3,695.4) rectangle ++(5.8,5.8);
\node[anchor=west, font=\fs{7}, inner sep=0] at (664.3,698.3) {Lung};
\filldraw[fill=cMus, draw=ggbox, line width=0.3pt] (657.3,702.8) rectangle ++(5.8,5.8);
\node[anchor=west, font=\fs{7}, inner sep=0] at (664.3,705.7) {Muscle (Skeletal)};
\end{scope}
\end{tikzpicture}
\end{document}
